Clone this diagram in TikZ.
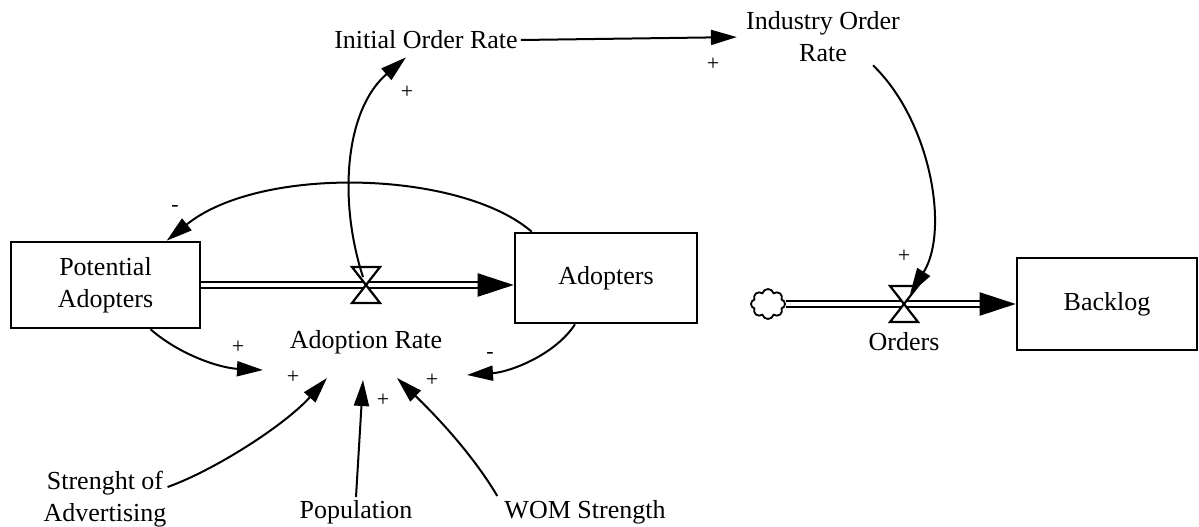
\documentclass[tikz,border=0pt]{standalone}
\usepackage{fontspec}
\setmainfont{Liberation Serif}
\usetikzlibrary{arrows.meta,shapes.symbols,calc}
\begin{document}
\begin{tikzpicture}[x=1pt,y=-1pt,
  every node/.style={font=\fontsize{26}{32}\selectfont, inner sep=3pt},
  stock/.style={draw, line width=2.6pt, align=center, inner sep=0pt},
  pipe/.style={draw, double, double distance=4pt, line width=2.2pt},
  pipehead/.style={-{Triangle[length=36pt,width=23pt]}, line width=2.2pt},
  link/.style={line width=2pt, -{Triangle[length=26pt,width=15pt]}},
  pol/.style={font=\fontsize{22}{22}\selectfont, inner sep=0pt},
  lbl/.style={align=center},
  valve/.pic={
    \draw[line width=2.2pt, fill=white] (-14,-18) -- (14,-18) -- (0,0) -- cycle;
    \draw[line width=2.2pt, fill=white] (-14,18) -- (14,18) -- (0,0) -- cycle;
  }
]
\useasboundingbox (0,0) rectangle (1199,527);

% stocks
\node[stock, minimum width=189pt, minimum height=86pt] (pa) at (105.5,285) {Potential\\Adopters};
\node[stock, minimum width=182pt, minimum height=90pt] (a) at (606,278) {Adopters};
\node[stock, minimum width=180pt, minimum height=92pt] (bl) at (1107,304) {Backlog};

% source cloud
\node[cloud, draw, line width=1.8pt, cloud puffs=8, minimum width=34pt, minimum height=30pt, inner sep=0pt] (src) at (768,304) {};

% valves
\coordinate (v1) at (366,285);
\coordinate (v2) at (904,304);

% auxiliaries and rates
\node[lbl] (ar) at (366,342) {Adoption Rate};
\node[lbl] (ord) at (904,342) {Orders};
\node[lbl] (ior) at (426,40) {Initial Order Rate};
\node[lbl] (indor) at (823,37) {Industry Order\\Rate};
\node[lbl] (soa) at (105,499) {Strenght of\\Advertising};
\node[lbl] (pop) at (356,512) {Population};
\node[lbl] (wom) at (585,512) {WOM Strength};

% flows
\draw[pipe, shorten >=34pt] (pa.east) -- (pa.east -| a.west);
\draw[pipehead] ($(pa.east -| a.west)+(-36,0)$) -- (pa.east -| a.west);
\pic at (v1) {valve};

\draw[pipe, shorten >=34pt] (src.east) -- (src.east -| bl.west);
\draw[pipehead] ($(src.east -| bl.west)+(-36,0)$) -- (src.east -| bl.west);
\pic at (v2) {valve};

% causal links
\draw[link] ($(v1)+(-3,-8)$) .. controls (338,200) and (345,110) .. ($(ior.south)+(-20,5)$);
\draw[link, shorten >=6pt] (ior.east) -- (indor.west);
\draw[link] ($(indor.south)+(50,0)$) .. controls (930,120) and (950,230) .. ($(v2)+(6,-10)$);
\draw[link] ($(a.north west)+(18,0)$) .. controls (460,170) and (260,165) .. ($(pa.north west)+(157,0)$);
\draw[link] ($(pa.south)+(45,0)$) .. controls (180,355) and (220,368) .. ($(ar)+(-103,28)$);
\draw[link] ($(a.south)+(-31,0)$) .. controls (555,355) and (510,372) .. ($(ar)+(101,33)$);
\draw[link] ($(soa.east)+(-2,-12)$) .. controls (215,470) and (285,425) .. ($(ar)+(-39,36)$);
\draw[link] (pop.north) -- ($(ar)+(-3,38)$);
\draw[link] ($(wom.west)+(-4,-16)$) .. controls (470,450) and (430,410) .. ($(ar)+(31,36)$);

% polarities
\node[pol] (p1) at (407,92) {+};
\node[pol] (p2) at (713,64) {+};
\node[pol] (p3) at (904,256) {+};
\node[pol] (p4) at (238,347) {+};
\node[pol] (p5) at (293,377) {+};
\node[pol] (p6) at (383,400) {+};
\node[pol] (p7) at (432,380) {+};
\node[pol] (m1) at (175,208) {-};
\node[pol] (m2) at (490,355) {-};
\end{tikzpicture}
\end{document}
